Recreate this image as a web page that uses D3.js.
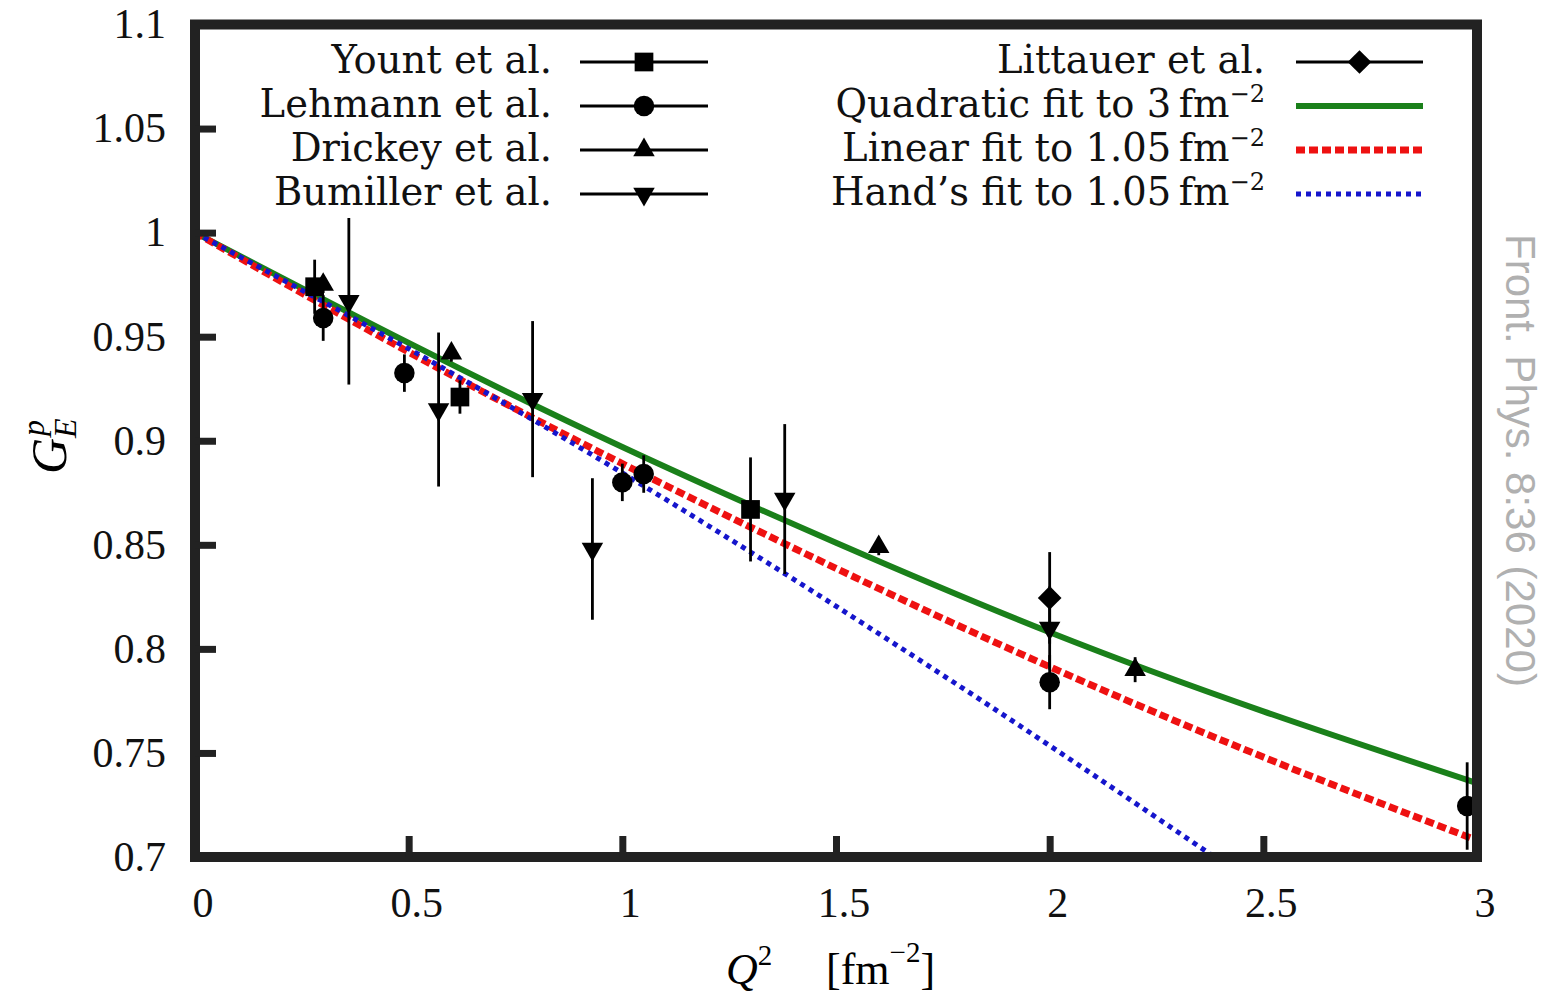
<!DOCTYPE html>
<html>
<head>
<meta charset="utf-8">
<script src="https://cdn.jsdelivr.net/npm/d3@7"></script>
<style>
  body { margin: 0; background: #fff; }
  .tick-label { font-family: "Liberation Serif", serif; font-size: 42px; fill: #111; }
  .legend-text { font-family: "DejaVu Serif", serif; font-size: 38.5px; fill: #111; }
</style>
</head>
<body>
<div class="chart"></div>
<script>
var svgWidth = 1545;
var svgHeight = 994;

// plot area (frame line centres)
var plot = { left: 195, right: 1477, top: 24.5, bottom: 857 };

// tick values and labels
var xTicks = [0, 0.5, 1, 1.5, 2, 2.5, 3];
var xTickLabels = ["0", "0.5", "1", "1.5", "2", "2.5", "3"];
var yTicks = [0.7, 0.75, 0.8, 0.85, 0.9, 0.95, 1, 1.05, 1.1];
var yTickLabels = ["0.7", "0.75", "0.8", "0.85", "0.9", "0.95", "1", "1.05", "1.1"];

// measured data sets (Q^2 in fm^-2, G_E^p, error)
var yountQ2 = [0.28, 0.62, 1.30];
var yountGE = [0.974, 0.921, 0.867];
var yountErr = [0.013, 0.008, 0.025];

var lehmannQ2 = [0.30, 0.49, 1.00, 1.05, 2.00, 2.977];
var lehmannGE = [0.959, 0.9325, 0.880, 0.884, 0.784, 0.7245];
var lehmannErr = [0.011, 0.009, 0.009, 0.009, 0.013, 0.021];

var drickeyQ2 = [0.30, 0.60, 1.60, 2.20];
var drickeyGE = [0.975, 0.942, 0.849, 0.790];
var drickeyErr = [0.004, 0.004, 0.004, 0.006];

var bumillerQ2 = [0.36, 0.57, 0.79, 0.93, 1.38, 2.00];
var bumillerGE = [0.967, 0.915, 0.920, 0.848, 0.872, 0.810];
var bumillerErr = [0.040, 0.037, 0.0375, 0.034, 0.036, 0.020];

var littauerQ2 = [2.00];
var littauerGE = [0.8245];
var littauerErr = [0.022];

// fit curves
var quadQ2 = [0, 0.5, 1, 1.5, 2, 2.5, 3];
var quadGE = [1.0, 0.947, 0.897, 0.851, 0.808, 0.770, 0.7355];
var linQ2 = [0, 0.5, 1, 1.5, 2, 2.5, 3];
var linGE = [1.0, 0.9426, 0.889, 0.8387, 0.7914, 0.748, 0.708];
var handQ2 = [0, 0.5, 1, 1.5, 2, 2.5];
var handGE = [1.0, 0.9442, 0.8845, 0.8205, 0.7535, 0.684];

var svg = d3.select(".chart")
  .append("svg")
  .attr("width", svgWidth)
  .attr("height", svgHeight);

var x = d3.scaleLinear().domain([0, 3]).range([plot.left, plot.right]);
var y = d3.scaleLinear().domain([0.7, 1.1]).range([plot.bottom, plot.top]);

svg.append("clipPath").attr("id", "clip")
  .append("rect")
  .attr("x", plot.left).attr("y", plot.top)
  .attr("width", plot.right - plot.left).attr("height", plot.bottom - plot.top);

var chartGroup = svg.append("g").attr("clip-path", "url(#clip)");

// fit lines
var lineGen = d3.line().x(d => x(d[0])).y(d => y(d[1])).curve(d3.curveNatural);

var fits = [
  { q: quadQ2, g: quadGE, color: "#1a801a", width: 6, dash: null },
  { q: linQ2, g: linGE, color: "#ee1111", width: 7, dash: "9,4" },
  { q: handQ2, g: handGE, color: "#1515cc", width: 5, dash: "5,5" }
];
fits.forEach(function(f) {
  chartGroup.append("path")
    .datum(d3.zip(f.q, f.g))
    .attr("d", lineGen)
    .attr("fill", "none")
    .attr("stroke", f.color)
    .attr("stroke-width", f.width)
    .attr("stroke-dasharray", f.dash);
});

// marker shapes
function markerPath(kind) {
  if (kind === "square") return d3.symbol().type(d3.symbolSquare).size(350)();
  if (kind === "circle") return d3.symbol().type(d3.symbolCircle).size(330)();
  if (kind === "diamond") return d3.symbol().type(d3.symbolSquare).size(280)();
  return d3.symbol().type(d3.symbolTriangle).size(200)();
}
function markerRotate(kind) {
  if (kind === "down") return 180;
  if (kind === "diamond") return 45;
  return 0;
}

var sets = [
  { name: "Yount et al.", q: yountQ2, g: yountGE, e: yountErr, kind: "square" },
  { name: "Lehmann et al.", q: lehmannQ2, g: lehmannGE, e: lehmannErr, kind: "circle" },
  { name: "Drickey et al.", q: drickeyQ2, g: drickeyGE, e: drickeyErr, kind: "up" },
  { name: "Bumiller et al.", q: bumillerQ2, g: bumillerGE, e: bumillerErr, kind: "down" },
  { name: "Littauer et al.", q: littauerQ2, g: littauerGE, e: littauerErr, kind: "diamond" }
];

sets.forEach(function(s) {
  var pts = s.q.map((q, i) => ({ q: q, g: s.g[i], e: s.e[i] }));
  chartGroup.selectAll(null)
    .data(pts)
    .enter()
    .append("line")
    .attr("x1", d => x(d.q)).attr("x2", d => x(d.q))
    .attr("y1", d => y(d.g + d.e)).attr("y2", d => y(d.g - d.e))
    .attr("stroke", "#000")
    .attr("stroke-width", 2.8);
  chartGroup.selectAll(null)
    .data(pts)
    .enter()
    .append("path")
    .attr("d", markerPath(s.kind))
    .attr("transform", d => `translate(${x(d.q)},${y(d.g)}) rotate(${markerRotate(s.kind)})`)
    .attr("fill", "#000");
});

// frame
svg.append("rect")
  .attr("x", plot.left).attr("y", plot.top)
  .attr("width", plot.right - plot.left).attr("height", plot.bottom - plot.top)
  .attr("fill", "none")
  .attr("stroke", "#222")
  .attr("stroke-width", 10);

// ticks (inward)
var leftAxis = d3.axisLeft(y).tickValues(yTicks).tickSize(-21).tickFormat("");
var bottomAxis = d3.axisBottom(x).tickValues(xTicks).tickSize(-21).tickFormat("");
var gl = svg.append("g").attr("transform", `translate(${plot.left},0)`).call(leftAxis);
var gb = svg.append("g").attr("transform", `translate(0,${plot.bottom})`).call(bottomAxis);
[gl, gb].forEach(function(g) {
  g.select(".domain").remove();
  g.selectAll(".tick line").attr("stroke", "#222").attr("stroke-width", 7);
});

// tick labels
svg.selectAll(".ylab")
  .data(yTicks)
  .enter()
  .append("text")
  .attr("class", "tick-label")
  .attr("x", 166)
  .attr("y", d => y(d))
  .attr("dy", "0.33em")
  .attr("text-anchor", "end")
  .text((d, i) => yTickLabels[i]);

svg.selectAll(".xlab")
  .data(xTicks)
  .enter()
  .append("text")
  .attr("class", "tick-label")
  .attr("x", d => x(d) + 8)
  .attr("y", 917)
  .attr("text-anchor", "middle")
  .text((d, i) => xTickLabels[i]);

// axis titles
var xt = svg.append("text")
  .attr("y", 984)
  .style("font-family", "Liberation Serif, serif")
  .style("font-size", "44px");
xt.append("tspan").attr("x", 726).style("font-style", "italic").text("Q");
xt.append("tspan").attr("dy", -19).style("font-size", "29px").text("2");
xt.append("tspan").attr("x", 826).attr("dy", 19).text("[fm");
xt.append("tspan").attr("dy", -22).style("font-size", "29px").text("\u22122");
xt.append("tspan").attr("dy", 22).text("]");

var yt = svg.append("text")
  .attr("transform", "translate(66,474) rotate(-90)")
  .style("font-family", "Liberation Serif, serif")
  .style("font-style", "italic")
  .style("font-size", "50px");
yt.append("tspan").attr("x", 0).text("G");
yt.append("tspan").attr("x", 36).attr("dy", 10).style("font-size", "32px").text("E");
yt.append("tspan").attr("x", 38).attr("dy", -32).style("font-size", "32px").text("p");

// legend
var rowY = [62, 106, 150, 194];
var legendItems = [
  { col: 0, row: 0, set: 0 },
  { col: 0, row: 1, set: 1 },
  { col: 0, row: 2, set: 2 },
  { col: 0, row: 3, set: 3 },
  { col: 1, row: 0, set: 4 }
];
var cols = [
  { textEnd: 552, x1: 580, x2: 708 },
  { textEnd: 1265, x1: 1296, x2: 1423 }
];

var legend = svg.append("g");
legendItems.forEach(function(it) {
  var c = cols[it.col], s = sets[it.set], ly = rowY[it.row];
  legend.append("text")
    .attr("class", "legend-text")
    .attr("x", c.textEnd).attr("y", ly + 11)
    .attr("text-anchor", "end")
    .text(s.name);
  legend.append("line")
    .attr("x1", c.x1).attr("x2", c.x2).attr("y1", ly).attr("y2", ly)
    .attr("stroke", "#000").attr("stroke-width", 2.8);
  legend.append("path")
    .attr("d", markerPath(s.kind))
    .attr("transform", `translate(${(c.x1 + c.x2) / 2},${ly}) rotate(${markerRotate(s.kind)})`)
    .attr("fill", "#000");
});

var fitNames = [
  ["Quadratic fit to 3\u2009fm", "\u22122"],
  ["Linear fit to 1.05\u2009fm", "\u22122"],
  ["Hand\u2019s fit to 1.05\u2009fm", "\u22122"]
];
fitNames.forEach(function(nm, i) {
  var ly = rowY[i + 1], f = fits[i];
  var t = legend.append("text")
    .attr("class", "legend-text")
    .attr("x", cols[1].textEnd).attr("y", ly + 11)
    .attr("text-anchor", "end");
  t.append("tspan").text(nm[0]);
  t.append("tspan").attr("dy", -15).style("font-size", "24px").text(nm[1]);
  legend.append("line")
    .attr("x1", cols[1].x1).attr("x2", cols[1].x2).attr("y1", ly).attr("y2", ly)
    .attr("stroke", f.color).attr("stroke-width", f.width)
    .attr("stroke-dasharray", f.dash);
});

// watermark
svg.append("text")
  .attr("transform", "translate(1506,234) rotate(90)")
  .style("font-family", "Liberation Sans, Arial, sans-serif")
  .style("font-size", "42px")
  .style("fill", "#b0b0b0")
  .text("Front. Phys. 8:36 (2020)");
</script>
</body>
</html>
